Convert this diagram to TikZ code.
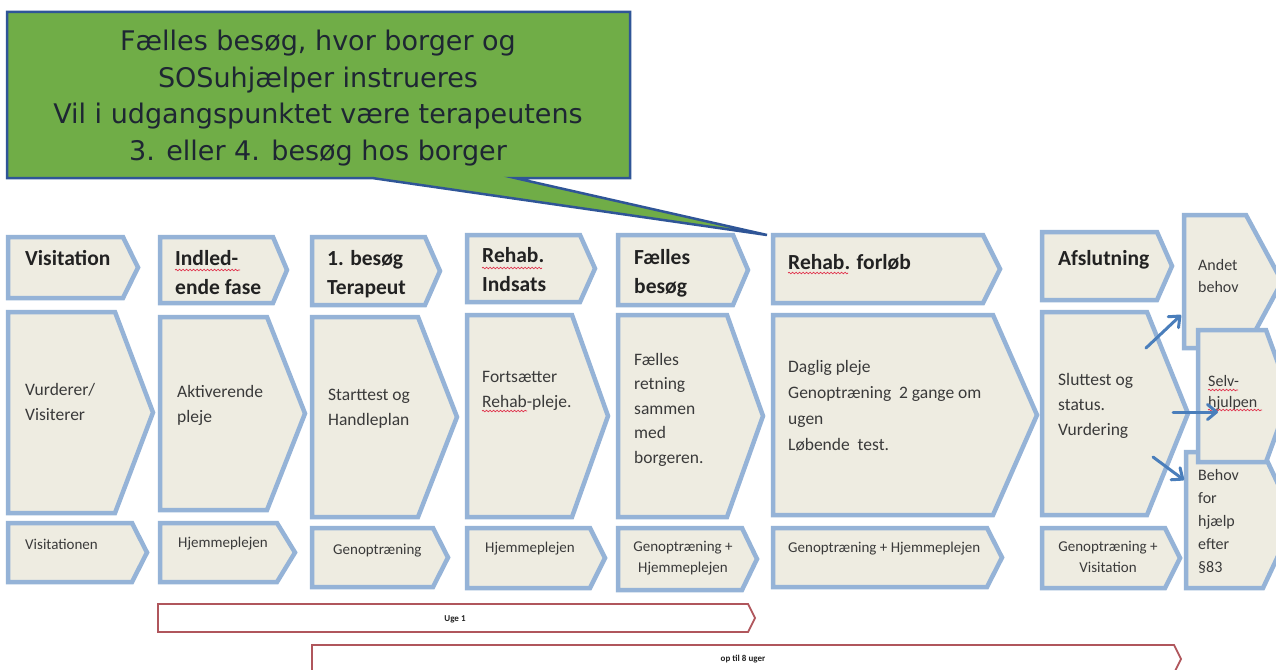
\documentclass[tikz,border=0pt]{standalone}
\usepackage{fontspec}
\setmainfont{Carlito}
\newfontfamily\callfont{DejaVu Sans}
\usetikzlibrary{arrows.meta,decorations.pathmorphing}
\definecolor{chevfill}{HTML}{EEECE1}
\definecolor{chevline}{HTML}{95B3D7}
\definecolor{callfill}{HTML}{70AD47}
\definecolor{callline}{HTML}{2F5597}
\definecolor{arrowblue}{HTML}{4A7EBB}
\definecolor{tlline}{HTML}{B0565C}
\definecolor{txtdark}{HTML}{222222}
\definecolor{txtbody}{HTML}{3A3A3A}
\definecolor{calltxt}{HTML}{1E2633}
\definecolor{squig}{HTML}{E0304A}
% name, left x, top y, slope start x, tip x, bottom y
\newcommand\mychev[6]{%
  \draw[chev] (#2,#3) -- (#4,#3) -- (#5,{(#3+#6)/2}) -- (#4,#6) -- (#2,#6) -- cycle;
  \coordinate (#1) at (#2,#3);}
\newcommand\mytime[6]{%
  \draw[tl] (#2,#3) -- (#4,#3) -- (#5,{(#3+#6)/2}) -- (#4,#6) -- (#2,#6) -- cycle;
  \coordinate (#1) at (#2,#3);}
\begin{document}
\begin{tikzpicture}[x=1pt,y=-1pt,
  chev/.style={draw=chevline,line width=4.5pt,fill=chevfill,line join=miter},
  tl/.style={draw=tlline,line width=1.8pt,fill=white,line join=miter},
  hd/.style={font=\fontsize{21.5}{29}\selectfont\bfseries,text=txtdark,inner sep=0pt,align=left,anchor=base west},
  bd/.style={font=\fontsize{17.5}{25}\selectfont,text=txtbody,inner sep=0pt,align=left,anchor=base west},
  lo/.style={font=\fontsize{15}{21}\selectfont,text=txtbody,inner sep=0pt,align=center,anchor=base},
  lw/.style={lo,anchor=base west},
  rt/.style={font=\fontsize{16}{23}\selectfont,text=txtbody,inner sep=0pt,align=left,anchor=base west},
  tltxt/.style={font=\fontsize{9}{11}\selectfont\bfseries,text=txtdark,inner sep=0pt},
  arr/.style={draw=arrowblue,line width=3pt,line cap=round,-{Straight Barb[length=9pt,width=15pt,round]}},
  sq/.style={draw=squig,line width=0.7pt,decorate,decoration={snake,amplitude=0.8pt,segment length=3.5pt}}]
\useasboundingbox (0,0) rectangle (1276,669);
\clip (0,0) rectangle (1276,669);
\fill[white] (0,0) rectangle (1276,669);

% header row
\mychev{h1}{8}{237}{123}{138}{298}
\mychev{h2}{160}{237}{273}{287}{303}
\mychev{h3}{312}{237}{425}{440}{305}
\mychev{h4}{467}{235}{580}{595}{302}
\mychev{h5}{618}{235}{733}{748}{305}
\mychev{h6}{773}{235}{983}{1000}{303}
\mychev{h7}{1042}{232}{1157}{1172}{300}
% body row
\mychev{b1}{8}{312}{115}{153}{513}
\mychev{b2}{160}{317}{267}{305}{510}
\mychev{b3}{312}{317}{418}{457}{517}
\mychev{b4}{467}{315}{572}{608}{517}
\mychev{b5}{618}{315}{727}{763}{517}
\mychev{b6}{773}{315}{993}{1037}{515}
\mychev{b7}{1042}{312}{1147}{1188}{515}
% bottom row
\mychev{l1}{8}{523}{132}{147}{582}
\mychev{l2}{160}{523}{277}{295}{582}
\mychev{l3}{312}{528}{433}{448}{587}
\mychev{l4}{467}{528}{590}{605}{588}
\mychev{l5}{618}{528}{742}{757}{590}
\mychev{l6}{773}{528}{987}{1002}{587}
\mychev{l7}{1042}{528}{1165}{1180}{588}
% right column
\mychev{r1}{1184}{215}{1246}{1282}{348}
\mychev{r3}{1186}{452}{1263}{1295}{588}
\mychev{r2}{1198}{330}{1266}{1290}{462}

% header texts (anchor = baseline of last line)
\node[hd] (th1) at (25,265) {Visitation};
\node[hd] (th2) at (175,294) {Indled-\\ende fase};
\node[hd] (th3) at (327,294) {1. besøg\\Terapeut};
\node[hd] (th4) at (482,291) {Rehab.\\Indsats};
\node[hd] (th5) at (634,293) {Fælles\\besøg};
\node[hd] (th6) at (788,269) {Rehab. forløb};
\node[hd] (th7) at (1058,265) {Afslutning};

% body texts
\node[bd] (tb1) at (25,420) {Vurderer/\\Visiterer};
\node[bd] (tb2) at (177,422) {Aktiverende\\pleje};
\node[bd] (tb3) at (328,425) {Starttest og\\Handleplan};
\node[bd] (tb4) at (482,407) {Fortsætter\\Rehab-pleje.};
\node[bd,font=\fontsize{17.5}{24.5}\selectfont] (tb5) at (634,463) {Fælles\\retning\\sammen\\med\\borgeren.};
\node[bd,font=\fontsize{17.5}{26}\selectfont] (tb6) at (788,450) {Daglig pleje\\Genoptræning\ \ 2 gange om\\ugen\\Løbende\ \ test.};
\node[bd] (tb7) at (1058,435) {Sluttest og\\status.\\Vurdering};

% bottom texts
\node[lw] (tl1) at (25,549) {Visitationen};
\node[lw] (tl2) at (178,547) {Hjemmeplejen};
\node[lw] (tl3) at (333,554) {Genoptræning};
\node[lw] (tl4) at (485,552) {Hjemmeplejen};
\node[lo] (tl5) at (683,572) {Genoptræning +\\Hjemmeplejen};
\node[lw] (tl6) at (788,552) {Genoptræning + Hjemmeplejen};
\node[lo] (tl7) at (1108,572) {Genoptræning +\\Visitation};

% right texts
\node[rt,font=\fontsize{16}{22}\selectfont] (tr1) at (1198,292) {Andet\\behov};
\node[rt,font=\fontsize{16}{21}\selectfont] (tr2) at (1208,407) {Selv-\\hjulpen};
\node[rt] (tr3) at (1198,572) {Behov\\for\\hjælp\\efter\\§83};

% spelling squiggles
\draw[sq] (175,270) -- (240,270);
\draw[sq] (482,268) -- (542,268);
\draw[sq] (482,411) -- (527,411);
\draw[sq] (788,273) -- (848,273);
\draw[sq] (1208,390) -- (1238,390);
\draw[sq] (1208,410) -- (1262,410);

% arrows from Afslutning
\coordinate (a1s) at (1146,348); \coordinate (a1e) at (1181,315);
\coordinate (a2s) at (1173,412); \coordinate (a2e) at (1218,412);
\coordinate (a3s) at (1153,457); \coordinate (a3e) at (1184,480);
\draw[arr] (a1s) -- (a1e);
\draw[arr] (a2s) -- (a2e);
\draw[arr] (a3s) -- (a3e);

% timeline
\mytime{u1}{158}{604}{748}{755}{632}
\mytime{u8}{312}{645}{1174}{1181}{673}
\node[tltxt] (tu1) at (455,619) {Uge 1};
\node[tltxt] (tu8) at (743,659) {op til 8 uger};

% callout
\draw[fill=callfill,draw=callline,line width=2.5pt,line join=miter]
  (7,12) -- (630,12) -- (630,178) -- (515,178) -- (767,235) -- (372,178) -- (7,178) -- cycle;
\node[font=\callfont\fontsize{27}{36.5}\selectfont,text=calltxt,align=center,inner sep=0pt] (call) at (318,98)
  {Fælles besøg, hvor borger og\\SOSuhjælper instrueres\\Vil i udgangspunktet være terapeutens\\3. eller 4. besøg hos borger};
\end{tikzpicture}
\end{document}
